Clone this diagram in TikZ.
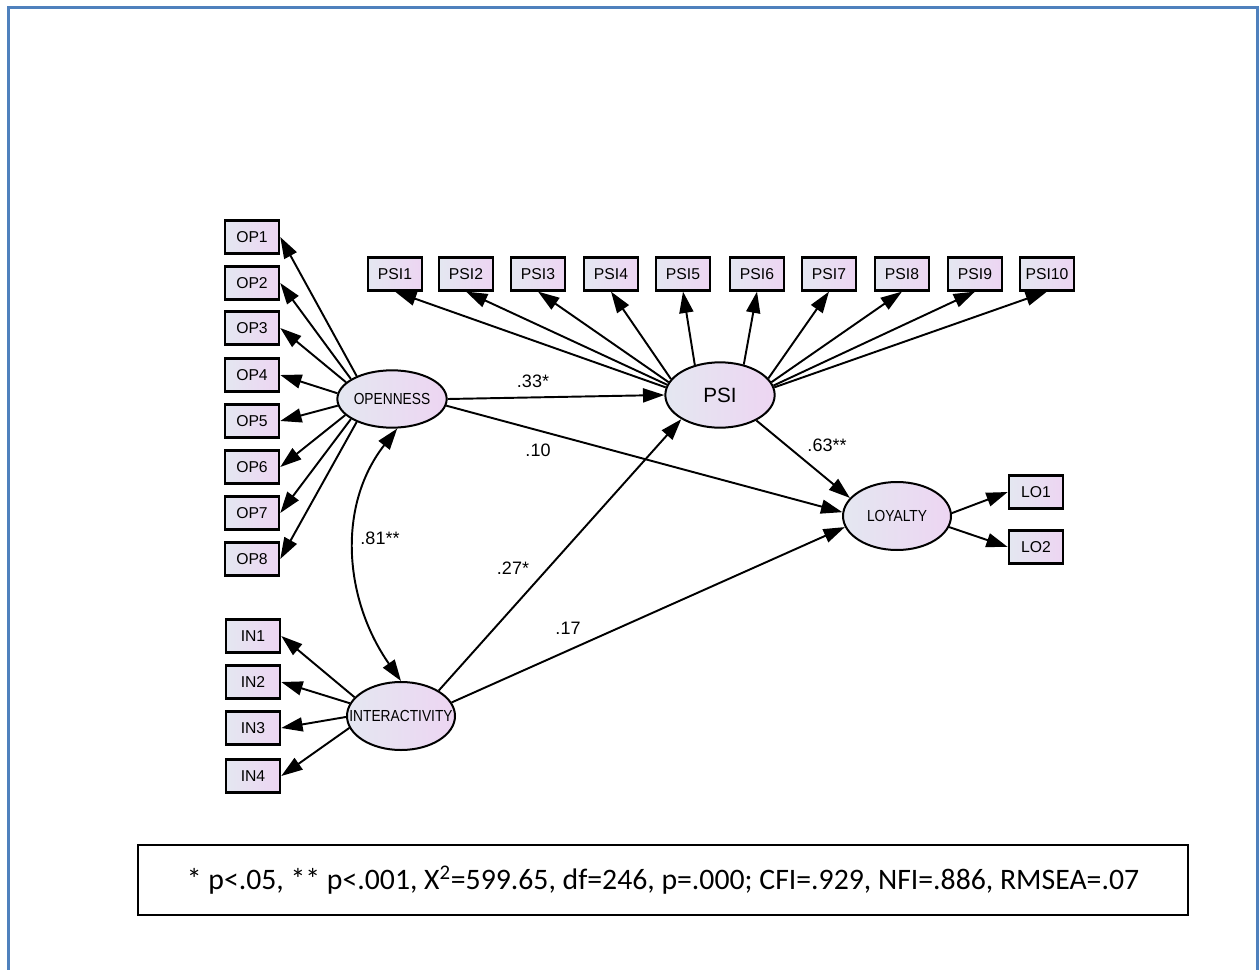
\documentclass[tikz,border=0pt]{standalone}
\usepackage{fontspec}
\setmainfont{Liberation Sans}
\newfontfamily\capfont{Carlito}
\newfontfamily\ellfont[FakeStretch=0.86]{Liberation Sans}
\usetikzlibrary{arrows.meta,shapes.geometric}
\definecolor{amosL}{HTML}{E4E7F1}
\definecolor{amosR}{HTML}{EDD5F2}
\definecolor{frameblue}{HTML}{4F81BD}
\begin{document}
\begin{tikzpicture}[x=0.75pt,y=-0.75pt,
  obs/.style={draw, line width=1.9pt, left color=amosL, right color=amosR,
    minimum width=40.5pt, minimum height=24.5pt, inner sep=0pt,
    font=\fontsize{11.8}{12}\selectfont},
  lat/.style={draw, ellipse, line width=1.5pt, left color=amosL, right color=amosR,
    inner sep=0pt, minimum width=82pt, minimum height=43pt,
    font=\ellfont\fontsize{12}{13}\selectfont},
  arr/.style={-{Triangle[length=16pt,width=10.5pt]}, line width=1.45pt},
  darr/.style={{Triangle[length=16pt,width=10.5pt]}-{Triangle[length=16pt,width=10.5pt]}, line width=1.45pt},
  coef/.style={font=\fontsize{13.5}{14}\selectfont, inner sep=0pt}]
\useasboundingbox (0,0) rectangle (1259,970);
\fill[white] (0,0) rectangle (1259,970);
\draw[frameblue, line width=1.6pt] (8.5,980) -- (8.5,7.5) -- (1257.5,7.5) -- (1257.5,980);

% latent variables
\node[lat] (openness) at (392,399) {\makebox[0pt]{OPENNESS}};
\node[lat, minimum height=49pt, font=\fontsize{15.5}{16}\selectfont] (psi) at (720,395) {PSI};
\node[lat, minimum width=81pt, minimum height=51pt] (loyalty) at (897,516) {\makebox[0pt]{LOYALTY}};
\node[lat, minimum width=81pt, minimum height=51pt] (inter) at (401,716) {\makebox[0pt]{INTERACTIVITY}};

% observed: openness
\foreach \i/\y in {1/237,2/283,3/328,4/375,5/421,6/467,7/513,8/559}
  \node[obs] (op\i) at (252,\y) {OP\i};
% observed: psi
\foreach \i/\x in {1/395,2/466,3/538,4/611,5/683,6/757,7/829,8/902,9/975,10/1047}
  \node[obs] (psi\i) at (\x,274) {PSI\i};
% observed: loyalty
\node[obs] (lo1) at (1036,492) {LO1};
\node[obs] (lo2) at (1036,547) {LO2};
% observed: interactivity
\foreach \i/\y in {1/636,2/682,3/728,4/776}
  \node[obs] (in\i) at (253,\y) {IN\i};

% measurement arrows
\foreach \i/\a in {1/147,2/154,3/160,4/174,5/187,6/199,7/206,8/213}
  \draw[arr] (openness.\a) -- (op\i.east);
\foreach \i/\a in {1/172,2/169,3/166,4/162,5/130,6/52,7/19.5,8/14.6,9/10.9,10/8.6}
  \draw[arr] (psi.\a) -- (psi\i.south);
\draw[arr] (loyalty.3) -- (lo1.west);
\draw[arr] (loyalty.-12) -- (lo2.west);
\foreach \i/\a in {1/158,2/166,3/181,4/193}
  \draw[arr] (inter.\a) -- (in\i.east);

% structural paths
\draw[arr] (openness.east) -- (psi.west);
\draw[arr] (openness.-7.5) -- (loyalty.176);
\draw[arr] (psi.-35) -- (loyalty.159);
\draw[arr] (inter.34) -- (psi.212);
\draw[arr] (inter.15) -- (loyalty.192);
\draw[darr] (openness.280) to[out=232,in=125] (inter.north);

% coefficients
\node[coef] (c33) at (533,381) {.33*};
\node[coef] (c10) at (538,450) {.10};
\node[coef] (c63) at (827,445) {.63**};
\node[coef] (c81) at (380,538) {.81**};
\node[coef] (c27) at (513,568) {.27*};
\node[coef] (c17) at (568,628) {.17};

% caption
\node[draw, line width=1.3pt, fill=white, minimum width=787.5pt, minimum height=52.5pt,
  font=\capfont\fontsize{22.3}{24}\selectfont] (caption) at (663,880)
  {* p<.05, ** p<.001, X\textsuperscript{2}=599.65, df=246, p=.000; CFI=.929, NFI=.886, RMSEA=.07};
\end{tikzpicture}
\end{document}
